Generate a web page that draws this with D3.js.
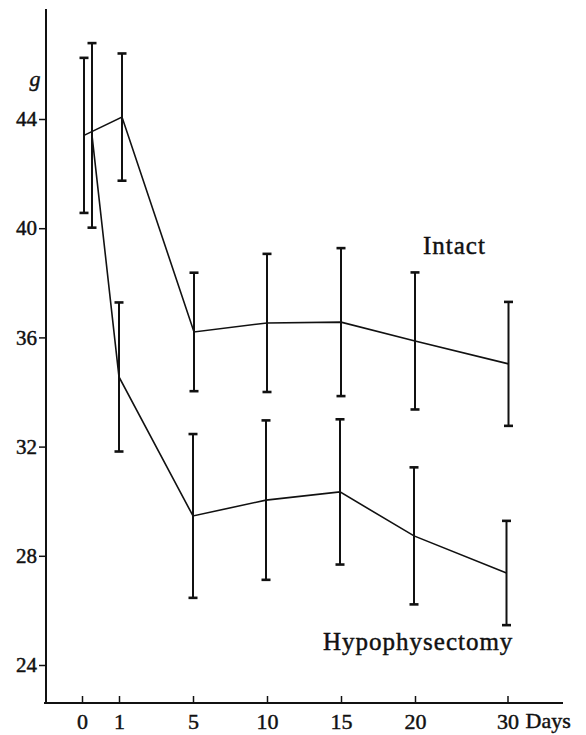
<!DOCTYPE html>
<html>
<head>
<meta charset="utf-8">
<script src="https://cdn.jsdelivr.net/npm/d3@7"></script>
<style>
  body { margin: 0; background: #fff; }
  svg { display: block; }
  text { font-family: "Liberation Serif", "DejaVu Serif", serif; fill: #111; stroke: #111; stroke-width: 0.45px; }
</style>
</head>
<body>
<svg id="chart" width="586" height="735"></svg>
<script>
  // days of measurement (x tick labels)
  const days = [0, 1, 5, 10, 15, 20, 30];
  const yTicks = [24, 28, 32, 36, 40, 44];

  // body weight (g), mean and error
  const intactMean = [43.4, 44.07, 36.2, 36.53, 36.56, 35.87, 35.03];
  const intactErr = [2.84, 2.33, 2.17, 2.53, 2.71, 2.51, 2.27];
  const hypoMean = [43.4, 34.55, 29.46, 30.04, 30.34, 28.73, 27.37];
  const hypoErr = [3.38, 2.73, 3.0, 2.92, 2.66, 2.51, 1.91];

  const svg = d3.select('#chart');
  const AXIS_X = 46;
  const AXIS_Y = 703;

  // axis is not to scale: slots of equal width, first step half, last step 1.25
  const xSlots = [0, 0.5, 1.5, 2.5, 3.5, 4.5, 5.75];
  const SLOT = 74;
  const x = d3.scaleLinear()
    .domain(days)
    .range(xSlots.map(s => 82 + s * SLOT));

  const y = d3.scaleLinear().domain([24, 44]).range([665, 119]);

  // y axis
  const yAxis = svg.append('g')
    .attr('transform', `translate(${AXIS_X},0)`)
    .call(d3.axisLeft(y).tickValues(yTicks).tickSize(7).tickPadding(2));
  yAxis.select('.domain').remove();
  yAxis.selectAll('.tick line').attr('stroke', '#111').attr('stroke-width', 1.5);
  yAxis.selectAll('.tick text')
    .attr('font-size', 21)
    .attr('fill', '#111');
  svg.append('line')
    .attr('x1', AXIS_X).attr('x2', AXIS_X)
    .attr('y1', 9).attr('y2', AXIS_Y)
    .attr('stroke', '#111').attr('stroke-width', 2);

  svg.append('text')
    .attr('x', 35).attr('y', 86)
    .attr('text-anchor', 'middle')
    .attr('font-size', 22)
    .attr('font-style', 'italic')
    .text('g');

  // x axis
  const xAxis = svg.append('g')
    .attr('transform', `translate(0,${AXIS_Y})`)
    .call(d3.axisBottom(x).tickValues(days).tickSize(-7).tickPadding(10));
  xAxis.select('.domain').remove();
  xAxis.selectAll('.tick line').attr('stroke', '#111').attr('stroke-width', 1.5);
  xAxis.selectAll('.tick text')
    .attr('font-size', 22)
    .attr('fill', '#111');
  svg.append('line')
    .attr('x1', AXIS_X - 2).attr('x2', 563)
    .attr('y1', AXIS_Y).attr('y2', AXIS_Y)
    .attr('stroke', '#111').attr('stroke-width', 2);

  svg.append('text')
    .attr('x', x(30) + 18).attr('y', 728)
    .attr('font-size', 22)
    .text('Days');

  // series; day-0 points are nudged apart in the original
  const series = [
    { name: 'Intact', mean: intactMean, err: intactErr, shift: [2, 3, 1, 0, 0, 0, 1] },
    { name: 'Hypophysectomy', mean: hypoMean, err: hypoErr, shift: [10, 0, 0, -1, -1, -1, -1] }
  ];

  const line = d3.line()
    .x(d => d.px)
    .y(d => y(d.mean));

  const CAP = 4.5;

  series.forEach(s => {
    const pts = days.map((d, i) => ({
      px: x(d) + s.shift[i],
      mean: s.mean[i],
      err: s.err[i]
    }));

    svg.append('path')
      .datum(pts)
      .attr('d', line)
      .attr('fill', 'none')
      .attr('stroke', '#111')
      .attr('stroke-width', 1.6);

    const bars = svg.append('g')
      .selectAll('g')
      .data(pts)
      .enter()
      .append('g');

    bars.append('line')
      .attr('x1', d => d.px).attr('x2', d => d.px)
      .attr('y1', d => y(d.mean + d.err))
      .attr('y2', d => y(d.mean - d.err))
      .attr('stroke', '#111')
      .attr('stroke-width', 2);

    [1, -1].forEach(sign => {
      bars.append('line')
        .attr('x1', d => d.px - CAP).attr('x2', d => d.px + CAP)
        .attr('y1', d => y(d.mean + sign * d.err))
        .attr('y2', d => y(d.mean + sign * d.err))
        .attr('stroke', '#111')
        .attr('stroke-width', 2.6);
    });
  });

  // series labels
  svg.append('text')
    .attr('x', 423).attr('y', 254)
    .attr('font-size', 25)
    .attr('letter-spacing', 1)
    .text('Intact');

  svg.append('text')
    .attr('x', 323).attr('y', 650)
    .attr('font-size', 25)
    .attr('letter-spacing', 1)
    .text('Hypophysectomy');
</script>
</body>
</html>
